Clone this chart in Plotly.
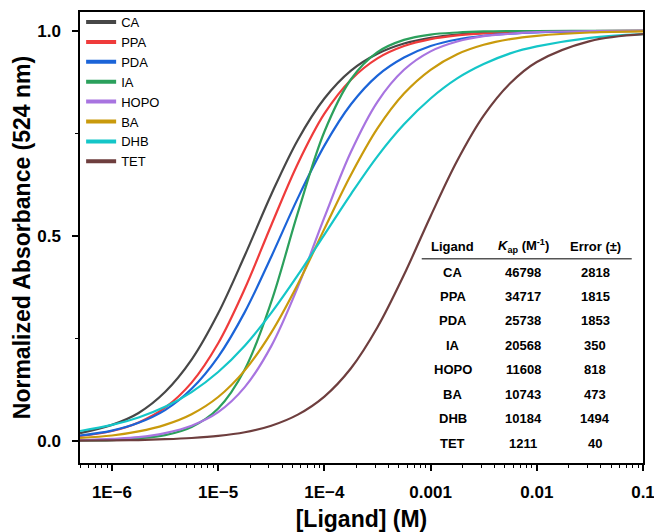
import plotly.graph_objects as go

# ligand concentration (M)
conc = [5e-7, 1e-6, 1.78e-6, 3.16e-6, 5.62e-6, 1e-5, 1.78e-5, 3.16e-5, 5.62e-5, 1e-4,
        1.78e-4, 3.16e-4, 5.62e-4, 1e-3, 1.78e-3, 3.16e-3, 5.62e-3, 1e-2, 3.16e-2, 0.1]

# normalized absorbance at 524 nm
ca = [0.019, 0.039, 0.068, 0.119, 0.198, 0.311, 0.452, 0.601, 0.734, 0.835,
      0.903, 0.944, 0.969, 0.983, 0.991, 0.995, 0.997, 0.998, 0.9995, 0.9999]
ppa = [0.012, 0.024, 0.045, 0.081, 0.142, 0.238, 0.371, 0.526, 0.676, 0.798,
       0.881, 0.933, 0.963, 0.980, 0.989, 0.994, 0.997, 0.998, 0.9995, 0.9999]
pda = [0.013, 0.025, 0.044, 0.075, 0.127, 0.205, 0.314, 0.449, 0.592, 0.720,
       0.821, 0.891, 0.935, 0.963, 0.979, 0.988, 0.993, 0.996, 0.999, 0.9996]
ia = [0.001, 0.002, 0.006, 0.014, 0.034, 0.079, 0.174, 0.339, 0.556, 0.754,
      0.882, 0.948, 0.978, 0.991, 0.996, 0.9985, 0.9994, 0.9997, 1.0, 1.0]
hopo = [0.002, 0.005, 0.009, 0.019, 0.037, 0.070, 0.131, 0.231, 0.375, 0.545,
        0.705, 0.827, 0.905, 0.950, 0.974, 0.987, 0.993, 0.997, 0.9992, 0.9998]
ba = [0.007, 0.013, 0.023, 0.039, 0.065, 0.107, 0.172, 0.264, 0.382, 0.517,
      0.649, 0.762, 0.847, 0.905, 0.943, 0.966, 0.980, 0.988, 0.996, 0.9987]
dhb = [0.024, 0.039, 0.057, 0.083, 0.119, 0.168, 0.232, 0.312, 0.404, 0.503,
       0.602, 0.694, 0.772, 0.835, 0.884, 0.919, 0.945, 0.962, 0.983, 0.992]
tet = [0.0006, 0.0012, 0.002, 0.004, 0.007, 0.012, 0.021, 0.037, 0.064, 0.108,
       0.177, 0.277, 0.405, 0.548, 0.683, 0.793, 0.872, 0.924, 0.975, 0.992]

names = ["CA", "PPA", "PDA", "IA", "HOPO", "BA", "DHB", "TET"]
series = [ca, ppa, pda, ia, hopo, ba, dhb, tet]
colors = ["#474747", "#ef3b3b", "#1b64d8", "#2ba05c", "#a874e0", "#c99a0c", "#14c6c8", "#6e3e3e"]

# table of binding constants
kap = ["46798", "34717", "25738", "20568", "11608", "10743", "10184", "1211"]
err = ["2818", "1815", "1853", "350", "818", "473", "1494", "40"]

FONT = "Liberation Sans, Arial, sans-serif"

fig = go.Figure()

for name, y, c in zip(names, series, colors):
    fig.add_trace(go.Scatter(
        x=conc, y=y, mode="lines", name=name,
        line=dict(color=c, width=2.2, shape="spline", smoothing=1.0),
        showlegend=False,
    ))

# legend entries with thicker line samples
for name, c in zip(names, colors):
    fig.add_trace(go.Scatter(
        x=[None], y=[None], mode="lines", name=name,
        line=dict(color=c, width=4),
    ))

minor_x = [m * 10.0**e for e in range(-7, -1) for m in range(2, 10)]
minor_x = [v for v in minor_x if 5e-7 <= v <= 0.1]

fig.update_xaxes(
    type="log", range=[-6.30103, -1], automargin=False,
    tickvals=[1e-6, 1e-5, 1e-4, 1e-3, 1e-2, 1e-1],
    ticktext=["1E\u22126", "1E\u22125", "1E\u22124", "0.001", "0.01", "0.1"],
    ticks="outside", ticklen=6, tickwidth=1.5, tickcolor="black",
    ticklabelstandoff=7, ticklabeloverflow="allow",
    minor=dict(tickvals=minor_x, ticks="outside", ticklen=3.5, tickwidth=1.2,
               tickcolor="black", showgrid=False),
    showline=True, linecolor="black", linewidth=1.5, mirror=True,
    showgrid=False, zeroline=False,
    tickfont=dict(family=FONT, size=17, color="black", weight="bold"),
    title=dict(text="<b>[Ligand] (M)</b>", font=dict(family=FONT, size=23, color="black"),
               standoff=17),
)
fig.update_yaxes(
    range=[-0.054, 1.046], automargin=False,
    tickvals=[0, 0.5, 1.0], ticktext=["0.0", "0.5", "1.0"],
    ticks="outside", ticklen=6, tickwidth=1.5, tickcolor="black",
    ticklabelstandoff=8,
    minor=dict(tickvals=[0.25, 0.75], ticks="outside", ticklen=3.5, tickwidth=1.2,
               tickcolor="black", showgrid=False),
    showline=True, linecolor="black", linewidth=1.5, mirror=True,
    showgrid=False, zeroline=False,
    tickfont=dict(family=FONT, size=17, color="black", weight="bold"),
    title=dict(text="<b>Normalized Absorbance (524 nm)</b>",
               font=dict(family=FONT, size=23, color="black"), standoff=0),
)

# table annotations (paper coordinates)
col_x = [0.6625, 0.787, 0.915]
header = ["Ligand", "<i>K</i><sub>ap</sub> (M<sup>-1</sup>)", "Error (\u00b1)"]
tfont = dict(family=FONT, size=13, color="black")
for cx, h in zip(col_x, header):
    fig.add_annotation(x=cx, y=0.481, xref="paper", yref="paper", text="<b>" + h + "</b>",
                       showarrow=False, font=tfont, xanchor="center", yanchor="middle")
fig.add_shape(type="line", xref="paper", yref="paper", x0=0.607, x1=0.980, y0=0.453, y1=0.453,
              line=dict(color="#555555", width=1.5))
for i, (n, k, e) in enumerate(zip(names, kap, err)):
    ry = 0.4235 - i * 0.0543
    for cx, t in zip(col_x, [n, k, e]):
        fig.add_annotation(x=cx, y=ry, xref="paper", yref="paper", text="<b>" + t + "</b>",
                           showarrow=False, font=tfont, xanchor="center", yanchor="middle")

fig.update_layout(
    width=654, height=532,
    margin=dict(l=80, r=11, t=12, b=69, autoexpand=False),
    plot_bgcolor="white", paper_bgcolor="white",
    font=dict(family=FONT, color="black"),
    legend=dict(x=0.002, y=1.011, xanchor="left", yanchor="top",
                bgcolor="rgba(0,0,0,0)", borderwidth=0,
                font=dict(family=FONT, size=13, color="black"),
                itemwidth=30, tracegroupgap=0),
)

# drop the default page margin so the figure fills the window exactly
fig.write_html("out.html", config={"displayModeBar": False},
               post_script="document.body.style.margin='0';document.body.style.overflow='hidden';")
